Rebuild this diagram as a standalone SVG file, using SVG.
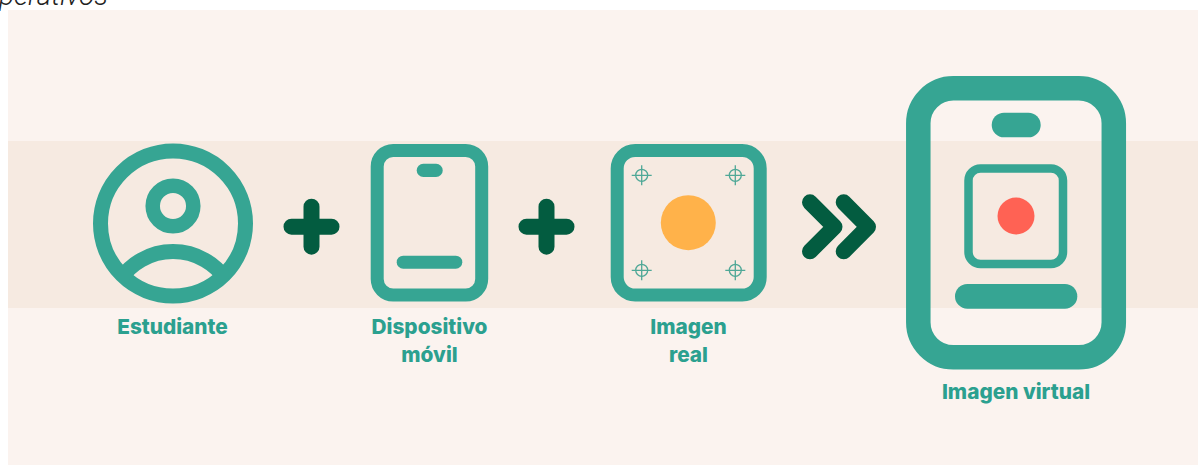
<svg xmlns="http://www.w3.org/2000/svg" width="1198" height="465" viewBox="0 0 1198 465">
<style>
.t{fill:none;stroke:#36A593}
.f{fill:#36A593}
.d{fill:none;stroke:#035C40;stroke-width:16;stroke-linecap:round;stroke-linejoin:round}
.l{font-family:"Inter","Liberation Sans",sans-serif;font-weight:800;font-size:20.8px;fill:#2BA08F;text-anchor:middle}
.c{fill:none;stroke:#4FA897;stroke-width:1.3}
</style>
<rect width="1198" height="465" fill="#fff"/>
<text x="-1" y="4.5" font-family="Roboto,sans-serif" font-style="italic" font-weight="300" font-size="28" fill="#222">perativos</text>
<rect x="8" y="10" width="1190" height="455" fill="#FBF3EF"/>
<rect x="8" y="141" width="1190" height="167" fill="#F6EAE1"/>
<g id="estudiante">
<circle class="t" cx="173" cy="223.5" r="72.5" stroke-width="15"/>
<circle class="t" cx="173" cy="206" r="20.3" stroke-width="14.5"/>
<path class="t" stroke-width="15" d="M120 279.6A64 64 0 0 1 226 279.6"/>
<text class="l" x="172.5" y="333.5">Estudiante</text>
</g>
<g id="dispositivo">
<rect class="t" x="377.2" y="150.5" width="104.5" height="144.5" rx="16" stroke-width="13"/>
<rect class="f" x="416.7" y="163.7" width="26" height="13.3" rx="6.6"/>
<rect class="f" x="396.7" y="255.7" width="65.6" height="13" rx="6.5"/>
<text class="l" x="429.5" y="333.5">Dispositivo</text>
<text class="l" x="429.5" y="361.5">móvil</text>
</g>
<g id="imagen-real">
<rect class="t" x="617.2" y="150.5" width="143" height="144.5" rx="18" stroke-width="13"/>
<circle cx="688.3" cy="222.7" r="27.5" fill="#FFB24A"/>
<path class="c" d="M631.7 175.3h20M641.7 165.3v20"/>
<circle class="c" cx="641.7" cy="175.3" r="6"/>
<path class="c" d="M725.3 175.3h20M735.3 165.3v20"/>
<circle class="c" cx="735.3" cy="175.3" r="6"/>
<path class="c" d="M631.7 270.3h20M641.7 260.3v20"/>
<circle class="c" cx="641.7" cy="270.3" r="6"/>
<path class="c" d="M725.3 270.3h20M735.3 260.3v20"/>
<circle class="c" cx="735.3" cy="270.3" r="6"/>
<text class="l" x="688.5" y="333.5">Imagen</text>
<text class="l" x="688.5" y="361.5">real</text>
</g>
<g id="imagen-virtual">
<rect class="t" x="918.3" y="88.3" width="195.5" height="269" rx="35" stroke-width="24.5"/>
<rect class="f" x="991.7" y="112.7" width="49" height="24.6" rx="12.3"/>
<rect class="t" x="968.5" y="168.5" width="94.5" height="95.5" rx="12" stroke-width="8.5"/>
<circle cx="1016" cy="216" r="18.5" fill="#FF6254"/>
<rect class="f" x="955" y="284" width="122.3" height="24.7" rx="12.3"/>
<text class="l" x="1016" y="398.5">Imagen virtual</text>
</g>
<g id="connectors">
<path class="d" d="M291.5 226.7h40M311.5 206.7v40"/>
<path class="d" d="M526.5 226.7h40M546.5 206.7v40"/>
<path class="d" d="M810 202.3L834.5 226.8L810 251.3"/>
<path class="d" d="M843.7 202.3L868 226.8L843.7 251.3"/>
</g>
</svg>
